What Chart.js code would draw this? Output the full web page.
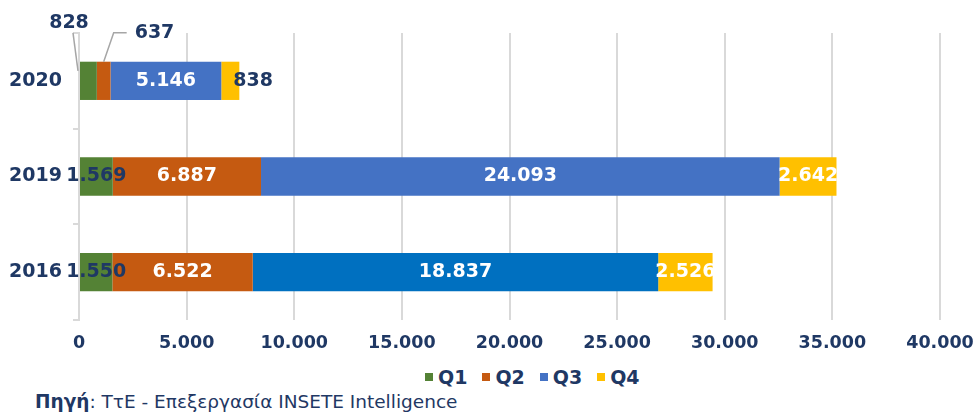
<!DOCTYPE html>
<html lang="el">
<head>
    <meta charset="UTF-8">
    <title>Ταξιδιωτικές εισπράξεις ανά τρίμηνο</title>
    <script src="https://cdn.jsdelivr.net/npm/chart.js"></script>
    <style>
        body { margin: 0; background: #fff; }
        #wrap { position: relative; width: 975px; height: 415px; font-family: "DejaVu Sans", Verdana, sans-serif; color: #1F3864; }
        #mainChart { position: absolute; left: 0; top: 0; }
        #legend { position: absolute; left: 425px; top: 366px; display: flex; align-items: center; font-weight: bold; font-size: 19px; line-height: 22px; }
        #legend span.box { display: inline-block; width: 8px; height: 8px; margin-right: 5px; }
        #legend span.txt { margin-right: 15px; }
        #source { position: absolute; left: 35px; top: 391px; font-size: 18.5px; line-height: 22px; white-space: nowrap; }
    </style>
</head>
<body>
<div id="wrap">
    <canvas id="mainChart" width="975" height="360"></canvas>
    <div id="legend"></div>
    <div id="source"><b>Πηγή</b>: ΤτΕ - Επεξεργασία INSETE Intelligence</div>
</div>
<script>
    const years = ['2020', '2019', '2016'];
    const seriesNames = ['Q1', 'Q2', 'Q3', 'Q4'];
    const q1 = [828, 1569, 1550];
    const q2 = [637, 6887, 6522];
    const q3 = [5146, 24093, 18837];
    const q4 = [838, 2642, 2526];
    const xTicks = [0, 5000, 10000, 15000, 20000, 25000, 30000, 35000, 40000];

    const navy = '#1F3864';
    const colors = ['#548235', '#C55A11', '#4472C4', '#FFC000'];
    // 2016 Q3 is drawn in a darker blue in the original
    const q3Colors = ['#4472C4', '#4472C4', '#0070C0'];
    const labelColors = [
        [navy, navy, navy],
        [navy, '#fff', '#fff'],
        ['#fff', '#fff', '#fff'],
        [navy, '#fff', '#fff']
    ];
    const fontFamily = '"DejaVu Sans", Verdana, sans-serif';

    function fmt(v) {
        return String(v).replace(/\B(?=(\d{3})+(?!\d))/g, '.');
    }

    // labels: centered on segments, small 2020 values moved outside with leader lines
    const barLabels = {
        id: 'barLabels',
        afterDatasetsDraw(chart) {
            const ctx = chart.ctx;
            ctx.save();
            ctx.font = 'bold 19px ' + fontFamily;
            ctx.textBaseline = 'middle';
            chart.data.datasets.forEach((ds, di) => {
                const meta = chart.getDatasetMeta(di);
                meta.data.forEach((el, i) => {
                    const txt = fmt(ds.data[i]);
                    const cx = (el.x + el.base) / 2;
                    ctx.fillStyle = labelColors[di][i];
                    ctx.textAlign = 'center';
                    if (i === 0 && di === 0) {
                        ctx.strokeStyle = '#A6A6A6';
                        ctx.lineWidth = 1.5;
                        ctx.beginPath();
                        ctx.moveTo(el.base - 7, el.y - 48);
                        ctx.lineTo(el.base - 2, el.y - 10);
                        ctx.stroke();
                        ctx.fillText(txt, el.base - 11, el.y - 58);
                    } else if (i === 0 && di === 1) {
                        ctx.strokeStyle = '#A6A6A6';
                        ctx.lineWidth = 1.5;
                        ctx.beginPath();
                        ctx.moveTo(cx + 23, el.y - 48);
                        ctx.lineTo(cx + 10, el.y - 48);
                        ctx.lineTo(cx, el.y - 19);
                        ctx.stroke();
                        ctx.textAlign = 'left';
                        ctx.fillText(txt, cx + 31, el.y - 48);
                    } else if (i === 0 && di === 3) {
                        ctx.textAlign = 'left';
                        ctx.fillText(txt, cx + 3, el.y);
                    } else {
                        ctx.fillText(txt, cx, el.y);
                    }
                });
            });
            ctx.restore();
        }
    };

    const seriesData = [q1, q2, q3, q4];
    const datasets = seriesNames.map((name, k) => ({
        label: name,
        data: seriesData[k],
        backgroundColor: k === 2 ? q3Colors : colors[k],
        borderWidth: 0,
        barPercentage: 0.4,
        categoryPercentage: 1
    }));

    const ctx = document.getElementById('mainChart').getContext('2d');
    const chart = new Chart(ctx, {
        type: 'bar',
        data: { labels: years, datasets: datasets },
        options: {
            indexAxis: 'y',
            responsive: false,
            animation: false,
            layout: { padding: { top: 33, right: 35, bottom: 10, left: 0 } },
            scales: {
                x: {
                    stacked: true,
                    min: 0,
                    max: 40000,
                    afterBuildTicks: (s) => { s.ticks = xTicks.map(v => ({ value: v })); },
                    afterFit: (s) => {
                        s.height = 30;
                        s.paddingLeft = 0;
                        s.paddingRight = 0;
                    },
                    grid: { color: '#D9D9D9', lineWidth: 2, drawTicks: false },
                    border: { display: false },
                    ticks: {
                        padding: 13,
                        color: navy,
                        font: { family: fontFamily, weight: 'bold', size: 17.5 },
                        callback: (v) => fmt(v)
                    }
                },
                y: {
                    stacked: true,
                    afterFit: (s) => { s.width = 79; },
                    grid: { drawOnChartArea: false, drawTicks: true, tickLength: 6, color: '#D9D9D9', lineWidth: 2 },
                    border: { display: true, color: '#D9D9D9', width: 2 },
                    ticks: {
                        padding: 11,
                        color: navy,
                        font: { family: fontFamily, weight: 'bold', size: 19 }
                    }
                }
            },
            plugins: {
                legend: { display: false },
                tooltip: { enabled: false },
                title: { display: false }
            }
        },
        plugins: [barLabels]
    });

    // legend below the chart
    const legend = document.getElementById('legend');
    seriesNames.forEach((name, k) => {
        legend.innerHTML += '<span class="box" style="background:' + colors[k] + '"></span><span class="txt">' + name + '</span>';
    });
</script>
</body>
</html>
